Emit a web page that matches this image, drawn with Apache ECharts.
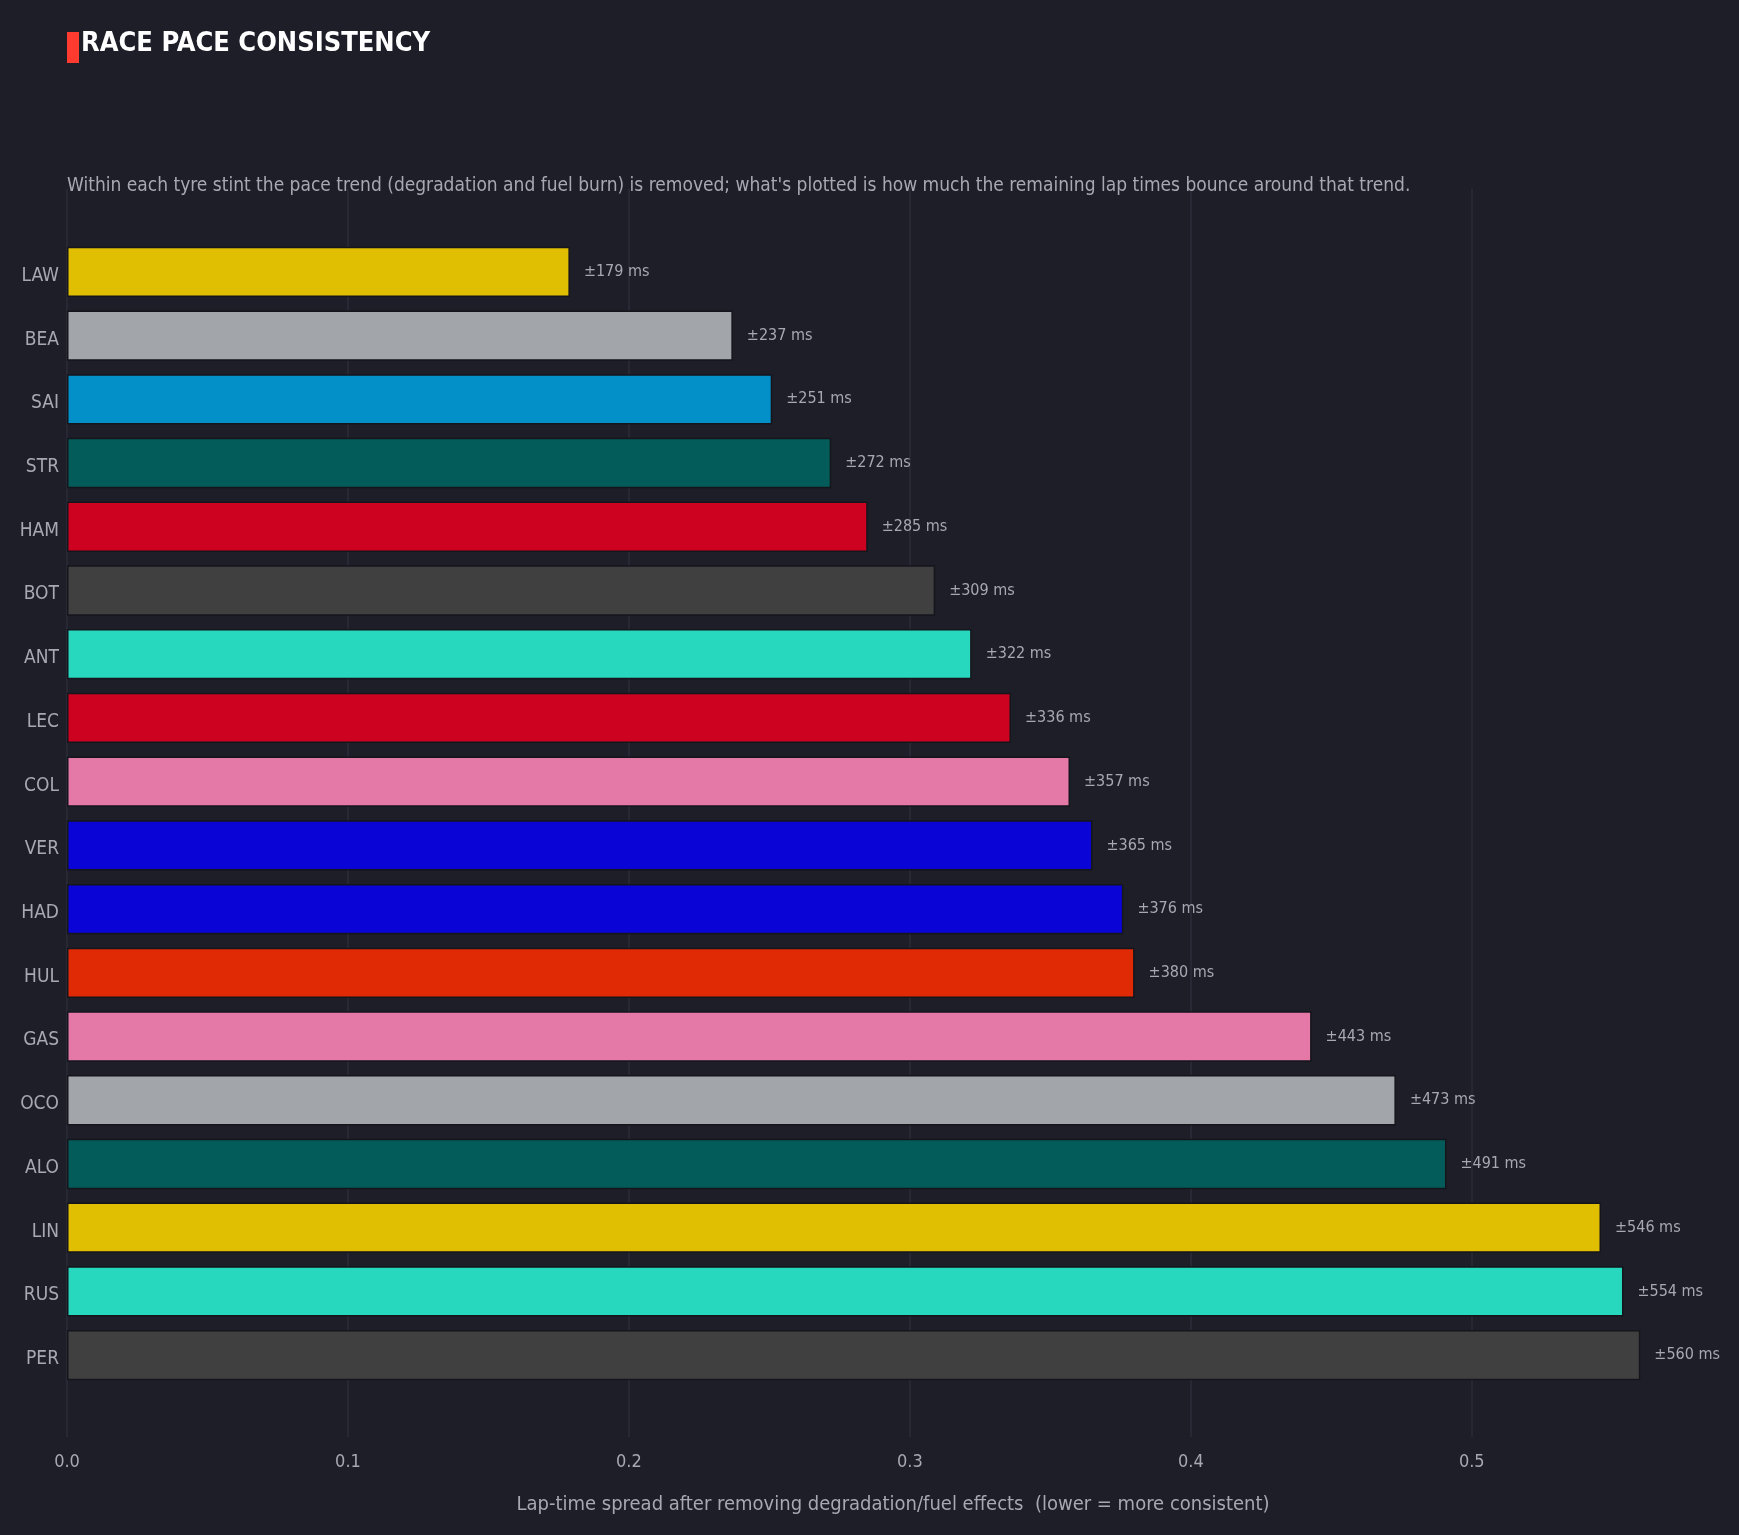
<!DOCTYPE html>
<html lang="en" style="height: 100%">
  <head>
    <meta charset="utf-8" />
  </head>
  <body style="height: 100%; margin: 0; background: #1e1e28">
    <div id="container" style="width: 1739px; height: 1535px"></div>

    <script
      type="text/javascript"
      src="https://fastly.jsdelivr.net/npm/echarts@6/dist/echarts.min.js"
    ></script>
    <script type="text/javascript">
      // drivers, top = most consistent
      const drivers = [
        "LAW", "BEA", "SAI", "STR", "HAM", "BOT", "ANT", "LEC", "COL",
        "VER", "HAD", "HUL", "GAS", "OCO", "ALO", "LIN", "RUS", "PER",
      ];
      // residual lap-time spread, seconds
      const spread = [
        0.179, 0.237, 0.251, 0.272, 0.285, 0.309, 0.322, 0.336, 0.357,
        0.365, 0.376, 0.38, 0.443, 0.473, 0.491, 0.546, 0.554, 0.56,
      ];
      const teamColors = [
        "#e0be02", "#a2a5aa", "#038fc8", "#045c5a", "#cd0220", "#404040",
        "#27d8be", "#cd0220", "#e479a8", "#0a04d6", "#0a04d6", "#e02a06",
        "#e479a8", "#a2a5aa", "#045c5a", "#e0be02", "#27d8be", "#404040",
      ];

      const fontFamily =
        '"Liberation Sans Narrow", "DejaVu Sans Condensed", "Roboto", sans-serif';
      const bg = "#1e1e28";
      const gridColor = "#2c2c38";
      const textColor = "#a8a8b2";

      var dom = document.getElementById("container");
      var myChart = echarts.init(dom, null, { renderer: "canvas" });

      var option = {
        backgroundColor: bg,
        animation: false,
        textStyle: { fontFamily: fontFamily },
        title: [
          {
            text: "RACE PACE CONSISTENCY",
            left: 76,
            top: 25,
            textStyle: {
              color: "#ffffff",
              fontSize: 27,
              fontWeight: "bold",
              fontFamily: fontFamily,
            },
          },
          {
            text:
              "Within each tyre stint the pace trend (degradation and fuel burn) is removed; what's plotted is how much the remaining lap times bounce around that trend.",
            left: 62,
            top: 172,
            textStyle: {
              color: textColor,
              fontSize: 19,
              fontWeight: "normal",
              fontFamily: fontFamily,
            },
          },
        ],
        graphic: [
          {
            type: "rect",
            left: 67,
            top: 32,
            shape: { width: 12, height: 31 },
            style: { fill: "#ff3b30" },
          },
        ],
        grid: [
          // full-height grid carrying the vertical gridlines and x labels
          { left: 67, width: 1652, top: 189, height: 1248 },
          // bar grid
          { left: 67, width: 1652, top: 240, height: 1147 },
        ],
        xAxis: [
          {
            type: "value",
            gridIndex: 0,
            min: 0,
            max: 0.588,
            interval: 0.1,
            axisLine: { show: false },
            axisTick: { show: false },
            splitLine: {
              showMaxLine: false,
              lineStyle: { color: gridColor, width: 1.5 },
            },
            axisLabel: {
              color: textColor,
              fontSize: 18,
              margin: 16,
              showMaxLabel: false,
              formatter: function (v) {
                return v.toFixed(1);
              },
            },
            name: "Lap-time spread after removing degradation/fuel effects  (lower = more consistent)",
            nameLocation: "middle",
            nameGap: 58,
            nameTextStyle: { color: textColor, fontSize: 20 },
          },
          {
            type: "value",
            gridIndex: 1,
            min: 0,
            max: 0.588,
            show: false,
            splitLine: { show: false },
          },
        ],
        yAxis: [
          {
            type: "value",
            gridIndex: 0,
            show: false,
            splitLine: { show: false },
          },
          {
            type: "category",
            gridIndex: 1,
            inverse: true,
            data: drivers,
            axisLine: { show: false },
            axisTick: { show: false },
            splitLine: { show: false },
            axisLabel: {
              color: textColor,
              fontSize: 19,
              margin: 8,
              verticalAlign: "top",
              lineHeight: 8,
            },
          },
        ],
        series: [
          {
            type: "bar",
            xAxisIndex: 1,
            yAxisIndex: 1,
            barCategoryGap: "21%",
            data: spread.map(function (v, i) {
              return { value: v, itemStyle: { color: teamColors[i] } };
            }),
            itemStyle: {
              borderColor: "#15151c",
              borderWidth: 1.5,
            },
            label: {
              show: true,
              position: "right",
              distance: 14,
              color: textColor,
              fontSize: 16,
              formatter: function (p) {
                return "±" + Math.round(p.value * 1000) + " ms";
              },
            },
          },
        ],
      };

      myChart.setOption(option);
      window.addEventListener("resize", myChart.resize);
    </script>
  </body>
</html>
